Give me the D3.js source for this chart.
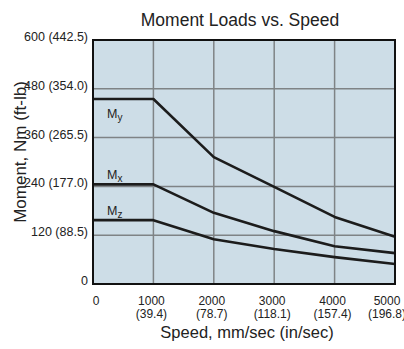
<!DOCTYPE html>
<html>
<head>
<meta charset="utf-8">
<script src="https://cdn.jsdelivr.net/npm/d3@7"></script>
<style>
  html, body { margin: 0; padding: 0; background: #ffffff; }
  svg { display: block; }
  text { font-family: "Liberation Sans", Arial, sans-serif; fill: #222222; }
</style>
</head>
<body>
<svg id="chart" width="404" height="349"></svg>
<script>
// Speed in mm/sec, moment loads in N·m
const speeds = [0, 1000, 2000, 3000, 4000, 5000];
const myValues = [455, 455, 312, 239, 165, 116];
const mxValues = [245, 245, 175, 130, 93, 76];
const mzValues = [157, 157, 110, 86, 66, 49];

const seriesNames = ["y", "x", "z"];

const yTicks = [0, 120, 240, 360, 480, 600];
const yTickLabels = ["0", "120 (88.5)", "240 (177.0)", "360 (265.5)", "480 (354.0)", "600 (442.5)"];
const xTicks = [0, 1000, 2000, 3000, 4000, 5000];
const xTickTop = ["0", "1000", "2000", "3000", "4000", "5000"];
const xTickBottom = ["", "(39.4)", "(78.7)", "(118.1)", "(157.4)", "(196.8)"];

const svg = d3.select("#chart");
const plotLeft = 93, plotRight = 395, plotTop = 40, plotBottom = 284;

const x = d3.scaleLinear().domain([0, 5000]).range([plotLeft, plotRight]);
const y = d3.scaleLinear().domain([0, 600]).range([plotBottom, plotTop]);

// plot background
svg.append("rect")
  .attr("x", plotLeft).attr("y", plotTop)
  .attr("width", plotRight - plotLeft).attr("height", plotBottom - plotTop)
  .attr("fill", "#cddde7");

// grid
const grid = svg.append("g").attr("stroke", "#7f8386").attr("stroke-width", 1.5);
grid.selectAll("line.v").data(xTicks.slice(1, -1)).enter().append("line")
  .attr("x1", d => x(d)).attr("x2", d => x(d))
  .attr("y1", plotTop).attr("y2", plotBottom);
grid.selectAll("line.h").data(yTicks.slice(1, -1)).enter().append("line")
  .attr("x1", plotLeft).attr("x2", plotRight)
  .attr("y1", d => y(d)).attr("y2", d => y(d));

// load curves
const line = d3.line().x(d => x(d[0])).y(d => y(d[1]));
const series = [myValues, mxValues, mzValues];
svg.append("g").selectAll("path").data(series).enter().append("path")
  .attr("d", vals => line(speeds.map((s, i) => [s, vals[i]])))
  .attr("fill", "none")
  .attr("stroke", "#1c1c1c")
  .attr("stroke-width", 2.6)
  .attr("stroke-linejoin", "round");

// frame
svg.append("rect")
  .attr("x", plotLeft).attr("y", plotTop)
  .attr("width", plotRight - plotLeft).attr("height", plotBottom - plotTop)
  .attr("fill", "none").attr("stroke", "#111").attr("stroke-width", 2);

// series labels (M with subscript)
const labelY = [y(myValues[0]) + 19, y(mxValues[0]) - 5, y(mzValues[0]) - 5];
seriesNames.forEach((n, i) => {
  const t = svg.append("text")
    .attr("x", 107).attr("y", labelY[i])
    .attr("font-size", 12.5);
  t.append("tspan").text("M");
  t.append("tspan").attr("font-size", 10).attr("dy", 3).text(n);
});

// y tick labels
svg.append("g").selectAll("text").data(yTicks).enter().append("text")
  .attr("x", 88).attr("y", d => y(d) + 1)
  .attr("text-anchor", "end")
  .attr("font-size", 12.5)
  .text((d, i) => yTickLabels[i]);

// x tick labels (two rows)
const xShift = (i) => i === 0 ? 3 : (i === xTicks.length - 1 ? -8 : -2);
svg.append("g").selectAll("text").data(xTicks).enter().append("text")
  .attr("x", (d, i) => x(d) + xShift(i)).attr("y", 305)
  .attr("text-anchor", "middle").attr("font-size", 12)
  .text((d, i) => xTickTop[i]);
svg.append("g").selectAll("text").data(xTicks).enter().append("text")
  .attr("x", (d, i) => x(d) + xShift(i)).attr("y", 318)
  .attr("text-anchor", "middle").attr("font-size", 12)
  .text((d, i) => xTickBottom[i]);

// titles
svg.append("text")
  .attr("x", 240).attr("y", 26)
  .attr("text-anchor", "middle").attr("font-size", 17.5)
  .text("Moment Loads vs. Speed");

svg.append("text")
  .attr("x", 247).attr("y", 338)
  .attr("text-anchor", "middle").attr("font-size", 16.5)
  .text("Speed, mm/sec (in/sec)");

svg.append("text")
  .attr("transform", "translate(26,152) rotate(-90)")
  .attr("text-anchor", "middle").attr("font-size", 17)
  .text("Moment, Nm (ft-lb)");
</script>
</body>
</html>
